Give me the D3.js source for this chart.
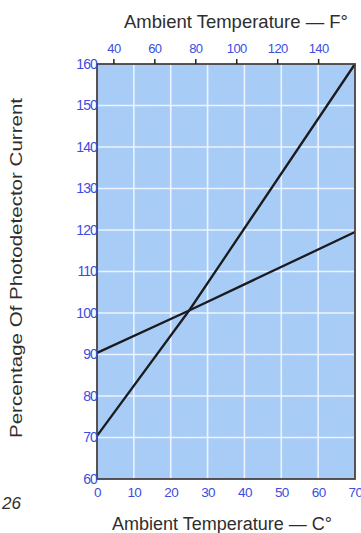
<!DOCTYPE html>
<html>
<head>
<meta charset="utf-8">
<script src="https://cdn.jsdelivr.net/npm/d3@7"></script>
<style>
  body { margin: 0; background: #fff; }
  svg { display: block; font-family: "Liberation Sans", Arial, sans-serif; }
</style>
</head>
<body>
<div id="chart"></div>
<script>
'use strict';

// data (x in degrees C, y in % of photodetector current)
var celsiusTicks = [0, 10, 20, 30, 40, 50, 60, 70];
var fahrenheitTicks = [40, 60, 80, 100, 120, 140];
var percentTicks = [60, 70, 80, 90, 100, 110, 120, 130, 140, 150, 160];

var lowSlopeC = [0, 25, 70];
var lowSlopeY = [90.4, 100.6, 119.5];

var highSlopeC = [0, 25, 70];
var highSlopeY = [70.4, 100.6, 160];

var W = 361, H = 533;
var margin = {top: 64, right: 6, bottom: 54, left: 97};
var width = W - margin.left - margin.right;
var height = H - margin.top - margin.bottom;

var svg = d3.select('#chart').append('svg')
	.attr('width', W)
	.attr('height', H);

// mottled paper texture
var defs = svg.append('defs');
var filt = defs.append('filter').attr('id', 'mottle')
	.attr('x', 0).attr('y', 0).attr('width', '100%').attr('height', '100%');
filt.append('feTurbulence')
	.attr('type', 'fractalNoise')
	.attr('baseFrequency', 0.12)
	.attr('numOctaves', 2)
	.attr('seed', 7)
	.attr('result', 'noise');
filt.append('feColorMatrix')
	.attr('in', 'noise')
	.attr('type', 'matrix')
	.attr('values', '0 0 0 0 0.45  0 0 0 0 0.55  0 0 0 0 0.9  0 0 0 0.9 -0.25');

var g = svg.append('g')
	.attr('transform', 'translate(' + margin.left + ',' + margin.top + ')');

var x = d3.scaleLinear().domain([0, 70]).range([0, width]);
var y = d3.scaleLinear().domain([60, 160]).range([height, 0]);
var fToC = function(f){ return (f - 32) * 5 / 9; };

g.append('rect')
	.attr('width', width)
	.attr('height', height)
	.attr('fill', '#a7cdf6');

g.append('rect')
	.attr('width', width)
	.attr('height', height)
	.attr('filter', 'url(#mottle)')
	.attr('opacity', 0.35);

// GRID
g.append('g').attr('class', 'grid')
	.selectAll('line.v').data(celsiusTicks.slice(1, -1))
	.enter().append('line')
		.attr('x1', function(d){ return x(d); })
		.attr('x2', function(d){ return x(d); })
		.attr('y1', 0).attr('y2', height)
		.attr('stroke', '#f4f8ff').attr('stroke-width', 1.6).attr('opacity', 0.9);

g.append('g').attr('class', 'grid')
	.selectAll('line.h').data(percentTicks.slice(1, -1))
	.enter().append('line')
		.attr('x1', 0).attr('x2', width)
		.attr('y1', function(d){ return y(d); })
		.attr('y2', function(d){ return y(d); })
		.attr('stroke', '#f4f8ff').attr('stroke-width', 1.6).attr('opacity', 0.9);

// CURVES
var line = d3.line()
	.x(function(d){ return x(d[0]); })
	.y(function(d){ return y(d[1]); });

[[lowSlopeC, lowSlopeY], [highSlopeC, highSlopeY]].forEach(function(s){
	g.append('path')
		.datum(d3.zip(s[0], s[1]))
		.attr('d', line)
		.attr('fill', 'none')
		.attr('stroke', '#1b1b1f')
		.attr('stroke-width', 2.3)
		.attr('stroke-linejoin', 'round');
});

// FRAME
g.append('rect')
	.attr('width', width)
	.attr('height', height)
	.attr('fill', 'none')
	.attr('stroke', '#4a4242')
	.attr('stroke-width', 1.8);

// AXES
var blue = '#3a4ee0';

var topAxis = d3.axisTop(x)
	.tickValues(fahrenheitTicks.map(fToC))
	.tickFormat(function(d, i){ return fahrenheitTicks[i]; })
	.tickSize(5).tickPadding(6);
var gTop = g.append('g').call(topAxis);

var bottomAxis = d3.axisBottom(x)
	.tickValues(celsiusTicks)
	.tickSize(0).tickPadding(8);
var gBottom = g.append('g').attr('transform', 'translate(0,' + height + ')').call(bottomAxis);

var leftAxis = d3.axisLeft(y)
	.tickValues(percentTicks)
	.tickSize(0).tickPadding(0);
var gLeft = g.append('g').call(leftAxis);

[gTop, gBottom, gLeft].forEach(function(a){
	a.select('.domain').remove();
	a.selectAll('.tick line').attr('stroke', '#222').attr('stroke-width', 1.5);
	a.selectAll('.tick text')
		.attr('fill', blue)
		.style('font-size', '13.5px')
		.style('letter-spacing', '-0.6px');
});
gTop.selectAll('.tick text').style('font-size', '13px');
gLeft.selectAll('.tick text').style('font-size', '14px').style('letter-spacing', '-0.9px');

// TITLES
svg.append('text')
	.attr('x', 236).attr('y', 28)
	.attr('text-anchor', 'middle')
	.attr('fill', '#2e2e2e')
	.style('font-size', '18.5px')
	.text('Ambient Temperature \u2014 F\u00b0');

svg.append('text')
	.attr('x', 222).attr('y', 530)
	.attr('text-anchor', 'middle')
	.attr('fill', '#2e2e2e')
	.style('font-size', '18px')
	.text('Ambient Temperature \u2014 C\u00b0');

svg.append('text')
	.attr('transform', 'translate(22,268) rotate(-90)')
	.attr('text-anchor', 'middle')
	.attr('fill', '#2e2e2e')
	.style('font-size', '17px')
	.attr('textLength', 340)
	.attr('lengthAdjust', 'spacingAndGlyphs')
	.text('Percentage Of Photodetector Current');

svg.append('text')
	.attr('x', 2).attr('y', 509)
	.attr('fill', '#2e2e2e')
	.style('font-size', '17px')
	.style('font-style', 'italic')
	.text('26');
</script>
</body>
</html>
